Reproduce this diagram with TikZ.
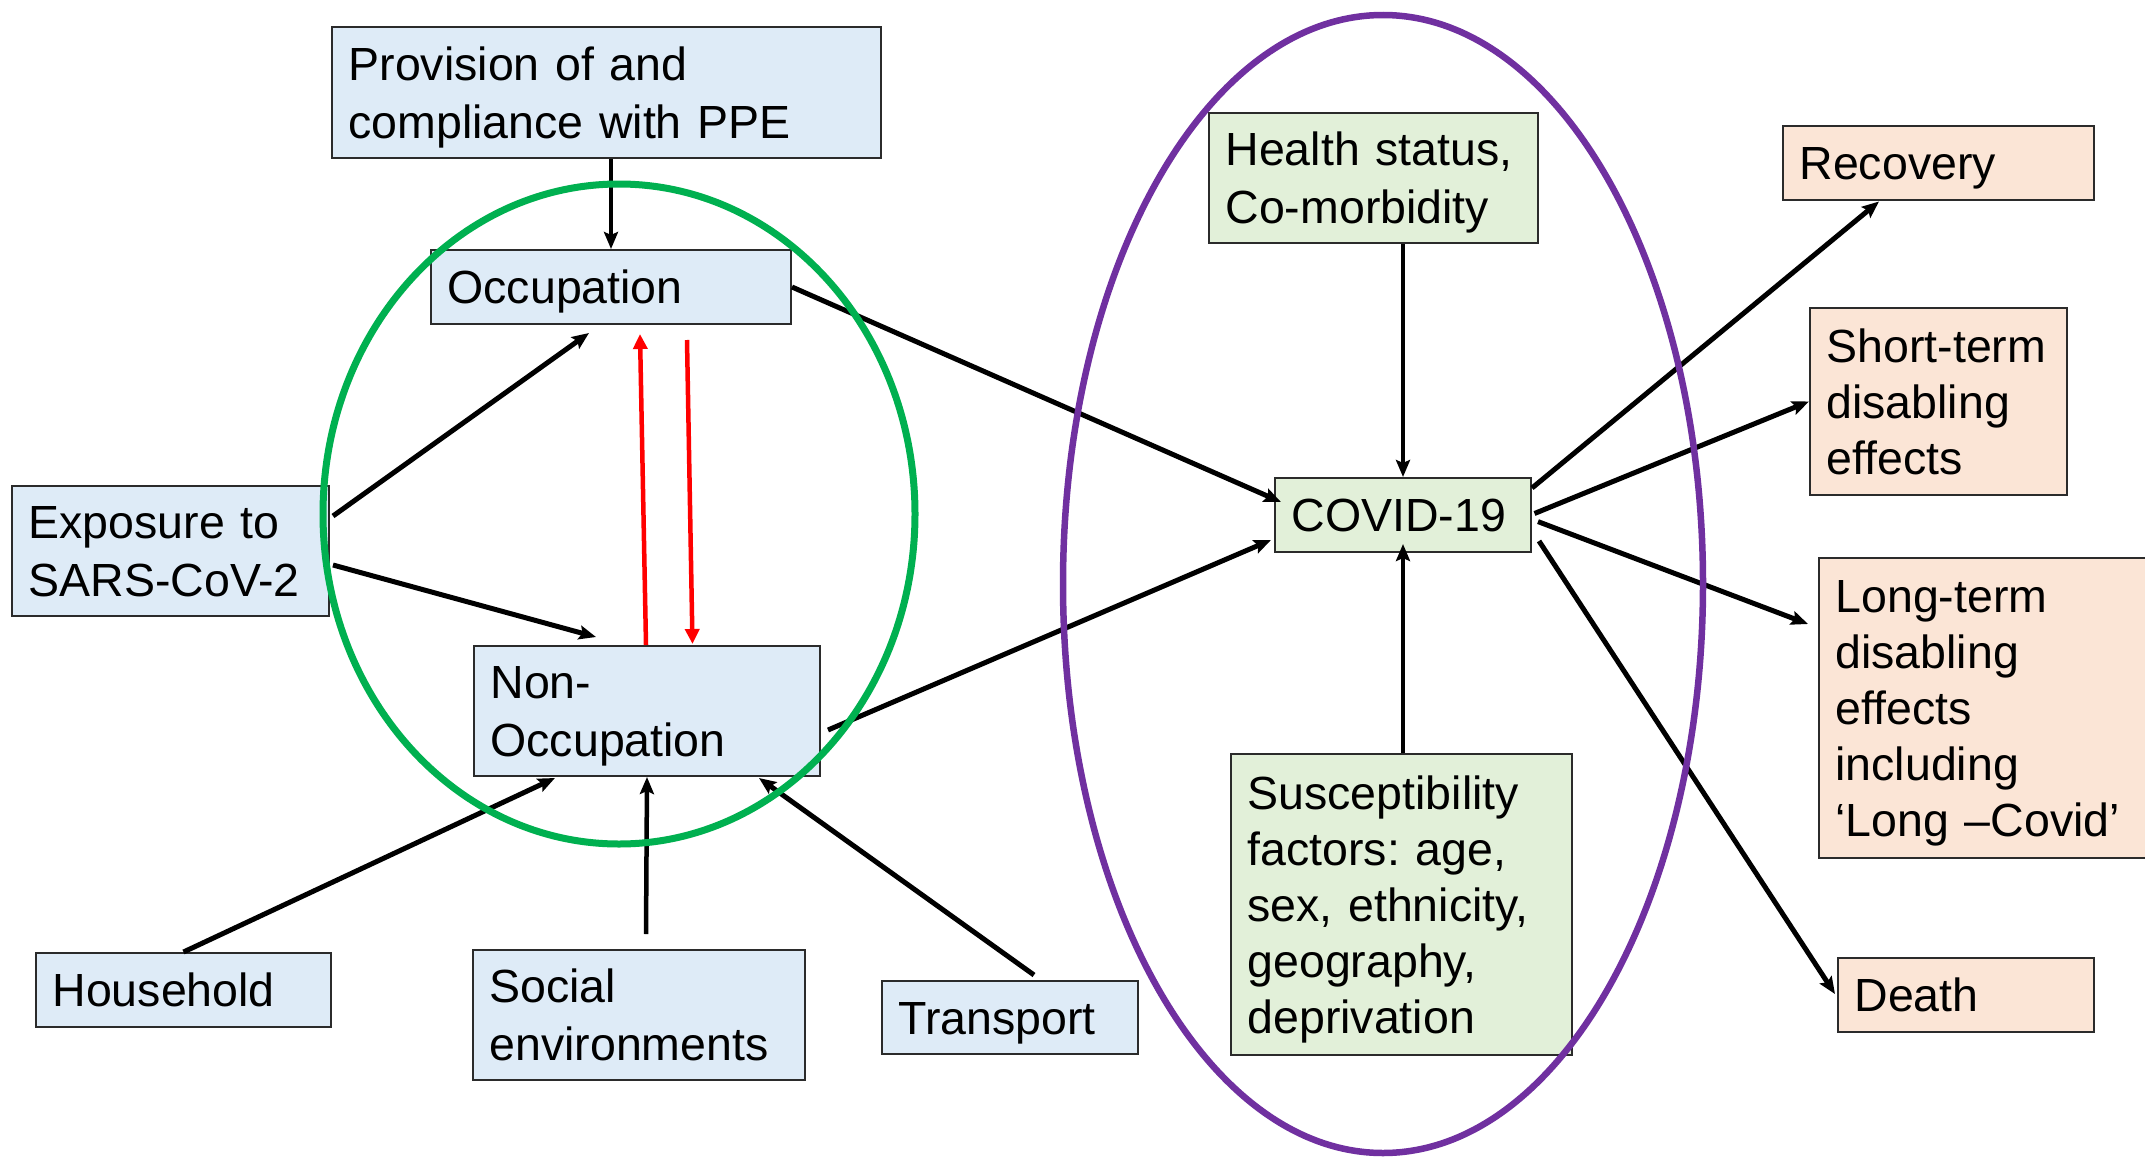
\documentclass[tikz,border=0pt]{standalone}
\usepackage{fontspec}
\setmainfont{Liberation Sans}
\usetikzlibrary{arrows.meta}

\definecolor{boxblue}{HTML}{DEEBF7}
\definecolor{boxgreen}{HTML}{E2F0D9}
\definecolor{boxorange}{HTML}{FBE5D6}
\definecolor{boxline}{HTML}{2B2B2B}
\definecolor{ringgreen}{HTML}{00B050}
\definecolor{ringpurple}{HTML}{7030A0}
\definecolor{linkred}{HTML}{FF0000}

% uniform line height so that every text block sits centred like the others
\newcommand{\linestrut}{\rule[-12pt]{0pt}{57pt}}

\tikzset{
  box/.style args={#1/#2}{draw=boxline, line width=2pt, rectangle,
    minimum width=#1pt, minimum height=#2pt, text width=#1pt-33pt,
    inner xsep=16.5pt, inner ysep=0pt, align=left,
    font=\fontsize{46.5}{56}\selectfont\frenchspacing,
    execute at begin node=\linestrut, execute at end node=\linestrut},
  bluebox/.style={box=#1, fill=boxblue},
  greenbox/.style={box=#1, fill=boxgreen},
  orangebox/.style={box=#1, fill=boxorange},
  link/.style={line width=5pt, -{Stealth[length=17pt,width=14pt,inset=3pt]}},
  vlink/.style={line width=4.5pt, -{Stealth[length=17pt,width=14pt,inset=3pt]}},
  redlink/.style={draw=linkred, line width=4.5pt, -{Triangle[length=15pt,width=14pt]}},
  ring/.style={line width=#1}
}

\begin{document}
\begin{tikzpicture}[x=1pt, y=-1pt]
  \useasboundingbox (0,0) rectangle (2145,1159);
  \clip (0,0) rectangle (2145,1159);
  \fill[white] (0,0) rectangle (2145,1159);

  % exposure side
  \node[bluebox=549/131] (ppe) at (606.5,92.5) {Provision of and\\compliance with PPE};
  \node[bluebox=360/74] (occ) at (611,287) {Occupation};
  \node[bluebox=317/130] (expo) at (170.5,551) {Exposure to\\SARS-CoV-2};
  \node[bluebox=346/130] (nonocc) at (647,711) {Non-\\Occupation};
  \node[bluebox=295/74] (house) at (183.5,990) {Household};
  \node[bluebox=332/130] (social) at (639,1015) {Social\\environments};
  \node[bluebox=256/73] (transport) at (1010,1017.5) {Transport};

  % disease and modifiers
  \node[greenbox=329/130] (health) at (1373.5,178) {Health status,\\Co-morbidity};
  \node[greenbox=256/74] (covid) at (1403,515) {COVID-19};
  \node[greenbox=341/301] (suscept) at (1401.5,904.5)
    {Susceptibility\\factors: age,\\sex, ethnicity,\\geography,\\deprivation};

  % outcomes
  \node[orangebox=311/74] (recovery) at (1938.5,163) {Recovery};
  \node[orangebox=257/187] (short) at (1938.5,401.5) {Short-term\\disabling\\effects};
  \node[orangebox=341/300] (long) at (1989.5,708)
    {Long-term\\disabling\\effects\\including\\‘Long –Covid’};
  \node[orangebox=256/74] (death) at (1966,995) {Death};

  % connectors
  \draw[vlink] (occ.north |- ppe.south) -- (occ.north);
  \draw[link] ([shift={(3,-35)}]expo.east) -- ([shift={(-22,8)}]occ.south);
  \draw[link] ([shift={(3,14)}]expo.east) -- ([shift={(-51,-8)}]nonocc.north);
  \draw[redlink] ([xshift=-1pt]nonocc.north) -- ([shift={(29,9)}]occ.south);
  \draw[redlink] ([shift={(76,15)}]occ.south) -- ([shift={(45.5,-1)}]nonocc.north);
  \draw[link] (occ.east) -- ([shift={(7,-13)}]covid.west);
  \draw[link] ([shift={(7,19)}]nonocc.east) -- ([shift={(-3,25)}]covid.west);
  \draw[vlink] (covid.north |- health.south) -- (covid.north);
  \draw[vlink] (covid.south |- suscept.north) -- ([shift={(0,-9)}]covid.south);
  \draw[link] ([shift={(0,-27)}]covid.east) -- ([shift={(-59.5,0.5)}]recovery.south);
  \draw[link] ([shift={(2.5,-1.5)}]covid.east) -- (short.west);
  \draw[link] ([shift={(6,6.6)}]covid.east) -- ([shift={(-10,-84)}]long.west);
  \draw[link] ([shift={(7,26)}]covid.east) -- ([shift={(-2,-1)}]death.west);
  \draw[link] (house.north) -- ([shift={(-92,1)}]nonocc.south);
  \draw[vlink] ([shift={(7,-15)}]social.north) -- (nonocc.south);
  \draw[link] ([shift={(24,-5)}]transport.north) -- ([shift={(112,1)}]nonocc.south);

  % grouping rings
  \draw[ringgreen, ring=7pt] (619,514) ellipse [x radius=296, y radius=330];
  \draw[ringpurple, ring=6.5pt] (1383,584) ellipse [x radius=320, y radius=569];
\end{tikzpicture}
\end{document}
